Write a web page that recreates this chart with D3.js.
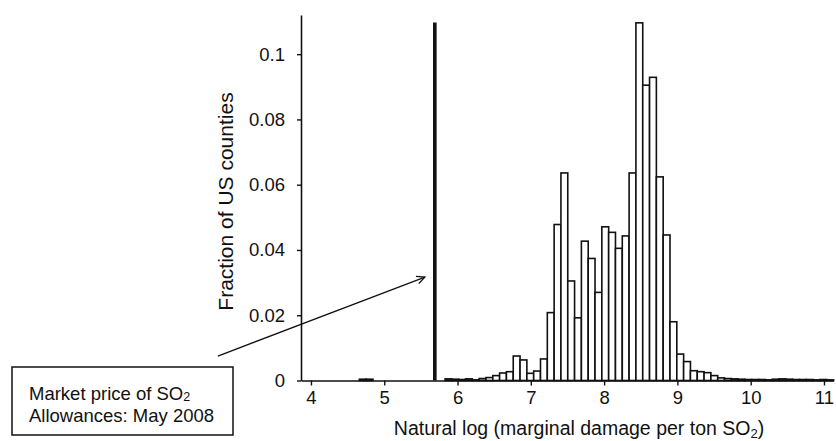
<!DOCTYPE html>
<html>
<head>
<meta charset="utf-8">
<script src="https://cdn.jsdelivr.net/npm/d3@7"></script>
<style>
  html, body { margin: 0; padding: 0; background: #fff; }
  svg text { font-family: "Liberation Sans", Arial, Helvetica, sans-serif; fill: #111; }
</style>
</head>
<body>
<svg id="chart" width="836" height="441"></svg>
<script>
// ---- data ----
const binWidth = 0.093;
const binStarts = [
  4.660, 4.753,
  5.830, 5.923, 6.016, 6.109, 6.202, 6.295, 6.388, 6.481, 6.574, 6.667,
  6.760, 6.853, 6.946, 7.039, 7.132, 7.225, 7.318, 7.411, 7.504, 7.597,
  7.690, 7.783, 7.876, 7.969, 8.062, 8.155, 8.248, 8.341, 8.434, 8.527,
  8.620, 8.713, 8.806, 8.899, 8.992, 9.085, 9.178, 9.271, 9.364, 9.457,
  9.550, 9.643, 9.736, 9.829, 9.922, 10.015, 10.108, 10.201, 10.294, 10.387,
  10.480, 10.573, 10.666, 10.759, 10.852, 10.945, 11.038
];
const fractions = [
  0.0004, 0.0004,
  0.0005, 0.0004, 0.0003, 0.0005, 0.0002, 0.0006, 0.0009, 0.0015, 0.0023, 0.0027,
  0.0075, 0.0063, 0.0022, 0.0029, 0.0066, 0.0208, 0.0478, 0.0636, 0.0305, 0.0192,
  0.0427, 0.0374, 0.0270, 0.0471, 0.0454, 0.0405, 0.0443, 0.0636, 0.1096, 0.0905,
  0.0929, 0.0624, 0.0446, 0.0180, 0.0081, 0.0058, 0.0030, 0.0027, 0.0024, 0.0015,
  0.0008, 0.0006, 0.0005, 0.0004, 0.0003, 0.0003, 0.0003, 0.0002, 0.0004, 0.0005,
  0.0004, 0.0003, 0.0003, 0.0003, 0.0002, 0.0003, 0.0002
];
const xTicks = [4, 5, 6, 7, 8, 9, 10, 11];
const yTicks = [0, 0.02, 0.04, 0.06, 0.08, 0.1];
const yTickLabels = ["0", "0.02", "0.04", "0.06", "0.08", "0.1"];
const marketPriceLog = 5.69;      // vertical reference line
const marketLineTop = 0.1097;
const arrowFrom = [2.73, 0.0075];  // in data units
const arrowTo = [5.555, 0.0317];
const noteLines = ["Market price of SO", "Allowances: May 2008"];
const xTitle = "Natural log (marginal damage per ton SO";
const yTitle = "Fraction of US counties";

// ---- chart ----
const svg = d3.select("#chart");
const font = '"Liberation Sans", Arial, Helvetica, sans-serif';

const x = d3.scaleLinear().domain([3.864, 11.13]).range([301, 833.5]);
const y = d3.scaleLinear().domain([0, 0.112]).range([380.5, 15]);

const bins = binStarts.map((s, i) => ({ x0: s, x1: s + binWidth, v: fractions[i] }));

svg.append("g")
  .selectAll("rect")
  .data(bins)
  .join("rect")
  .attr("x", d => x(d.x0))
  .attr("width", d => x(d.x1) - x(d.x0))
  .attr("y", d => y(d.v))
  .attr("height", d => y(0) - y(d.v))
  .attr("fill", "#fff")
  .attr("stroke", "#111")
  .attr("stroke-width", 1.6);

// vertical market price line
svg.append("line")
  .attr("x1", x(marketPriceLog)).attr("x2", x(marketPriceLog))
  .attr("y1", y(0)).attr("y2", y(marketLineTop))
  .attr("stroke", "#111").attr("stroke-width", 3.6);

// axes
const xAxis = d3.axisBottom(x).tickValues(xTicks).tickFormat(d3.format("d"))
  .tickSize(5).tickSizeOuter(0).tickPadding(5.5);
const gx = svg.append("g").attr("transform", `translate(0,${y(0)})`).call(xAxis);

const yAxis = d3.axisLeft(y).tickValues(yTicks).tickFormat((d, i) => yTickLabels[i])
  .tickSize(4).tickSizeOuter(0).tickPadding(12);
const gy = svg.append("g").attr("transform", `translate(${x.range()[0]},0)`).call(yAxis);

[gx, gy].forEach(g => {
  g.select(".domain").attr("stroke", "#111").attr("stroke-width", 1.6);
  g.selectAll(".tick line").attr("stroke", "#111").attr("stroke-width", 1.4);
  g.selectAll(".tick text").attr("font-family", font).attr("font-size", 18.5).attr("fill", "#111");
});

// axis titles
const xt = svg.append("text")
  .attr("x", 579).attr("y", 435)
  .attr("text-anchor", "middle")
  .attr("font-size", 19.5)
  .text(xTitle);
xt.append("tspan").attr("font-size", 13).attr("dy", 3).text("2");
xt.append("tspan").attr("dy", -3).text(")");

svg.append("text")
  .attr("transform", "translate(233,201.5) rotate(-90)")
  .attr("text-anchor", "middle")
  .attr("font-size", 21)
  .text(yTitle);

// annotation box
svg.append("rect")
  .attr("x", 12).attr("y", 367).attr("width", 221).attr("height", 68)
  .attr("fill", "#fff").attr("stroke", "#111").attr("stroke-width", 1.5);

const t1 = svg.append("text").attr("x", 29).attr("y", 399.5).attr("font-size", 18.5).text(noteLines[0]);
t1.append("tspan").attr("font-size", 12.5).attr("dy", 1).text("2");
svg.append("text").attr("x", 29).attr("y", 421.5).attr("font-size", 18.5).text(noteLines[1]);

// arrow
const ax1 = x(arrowFrom[0]), ay1 = y(arrowFrom[1]);
const ax2 = x(arrowTo[0]), ay2 = y(arrowTo[1]);
svg.append("line")
  .attr("x1", ax1).attr("y1", ay1).attr("x2", ax2).attr("y2", ay2)
  .attr("stroke", "#111").attr("stroke-width", 1.3);
const ang = Math.atan2(ay2 - ay1, ax2 - ax1);
const headLen = 9, headAng = 0.45;
const hp = [ang + Math.PI - headAng, ang + Math.PI + headAng].map(a => [ax2 + headLen * Math.cos(a), ay2 + headLen * Math.sin(a)]);
svg.append("path")
  .attr("d", `M${hp[0][0]},${hp[0][1]} L${ax2},${ay2} L${hp[1][0]},${hp[1][1]}`)
  .attr("fill", "none").attr("stroke", "#111").attr("stroke-width", 1.3);
</script>
</body>
</html>
